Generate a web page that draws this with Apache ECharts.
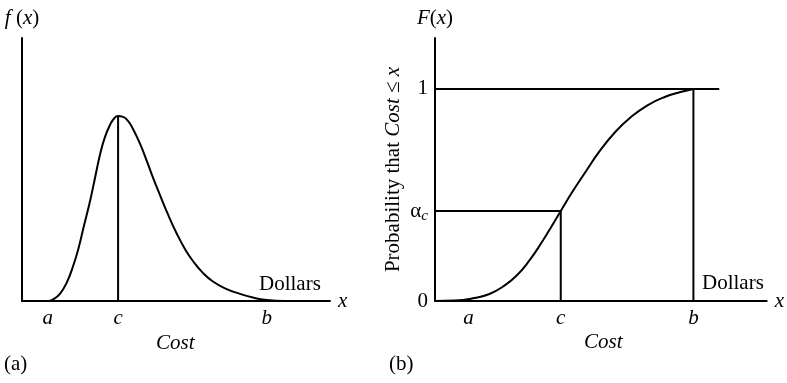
<!DOCTYPE html>
<html>
<head>
<meta charset="utf-8">
<script src="https://cdn.jsdelivr.net/npm/echarts@6/dist/echarts.min.js"></script>
<style>
  html, body { margin: 0; padding: 0; background: #fff; }
  #chart { width: 787px; height: 383px; }
</style>
</head>
<body>
<div id="chart"></div>
<script>
// (a) probability density of cost: x positions and f(x) heights
const pdfX = [4.5, 8.4, 10.1, 12.3, 14.6, 16.6, 18.2, 20.1, 22.1, 23.7, 25.3, 26.9, 28.6, 29.9, 31.2,
              32.8, 34.4, 36.0, 38.3, 40.6, 42.5, 44.8, 47.4, 50.3, 52.9, 55.5, 58.8, 62.0, 65.9,
              70.8, 75.0, 79.5, 85.4];
const pdfY = [0, 0, 0.006, 0.027, 0.072, 0.133, 0.194, 0.285, 0.380, 0.468, 0.555, 0.622, 0.670, 0.694, 0.703,
              0.700, 0.685, 0.655, 0.598, 0.530, 0.470, 0.403, 0.329, 0.255, 0.198, 0.152, 0.106, 0.074, 0.048,
              0.027, 0.013, 0.004, 0];

// (b) cumulative distribution of cost: x positions and F(x) values
const cdfX = [0, 5.97, 11.94, 16.42, 20.30, 24.48, 28.36, 32.24, 35.22, 37.91, 41.19, 45.37, 49.25, 54.33,
              59.10, 64.18, 69.25, 74.03, 77.91];
const cdfY = [0, 0.002, 0.014, 0.033, 0.066, 0.118, 0.189, 0.278, 0.354, 0.424, 0.509, 0.608, 0.698, 0.797,
              0.868, 0.924, 0.962, 0.985, 1.0];

// named cost points on the horizontal axes
const costNames = ['a', 'c', 'b'];
const costTicksA = [8.4, 31.2, 79.5];
const costTicksB = [10.1, 37.91, 77.91];

// probability tick labels on the F(x) axis
const probNames = ['0', 'αc', '1'];
const probTicks = [0, 0.424, 1];
const oneLineEnd = 85.7;

const FONT = '"Liberation Serif", "DejaVu Serif", serif';
const FS = 21;
const INK = '#000';

const peakIdx = pdfY.indexOf(Math.max(...pdfY));
const peakX = pdfX[peakIdx], peakY = pdfY[peakIdx];
const cIdxB = cdfX.indexOf(costTicksB[1]);
const alphaC = cdfY[cIdxB];

function zip(xs, ys) { return xs.map((x, i) => [x, ys[i]]); }

function segment(xi, yi, pts) {
  return {
    type: 'line', xAxisIndex: xi, yAxisIndex: yi, data: pts,
    symbol: 'none', silent: true, animation: false,
    lineStyle: { color: INK, width: 2 }
  };
}

function curve(xi, yi, pts) {
  return {
    type: 'line', xAxisIndex: xi, yAxisIndex: yi, data: pts,
    smooth: 0.5, symbol: 'none', silent: true,
    lineStyle: { color: INK, width: 2 }
  };
}

function costAxis(grid, ticks) {
  return {
    type: 'value', gridIndex: grid, min: 0, max: 100,
    name: 'x', nameLocation: 'end', nameGap: 8,
    nameTextStyle: { fontFamily: FONT, fontSize: FS, fontStyle: 'italic', color: INK, verticalAlign: 'middle', padding: [0, 0, 4, 0] },
    axisLine: { show: true, onZero: false, lineStyle: { color: INK, width: 2 } },
    axisTick: { show: false },
    splitLine: { show: false },
    axisLabel: {
      customValues: ticks,
      formatter: v => costNames[ticks.indexOf(v)] || '',
      fontFamily: FONT, fontSize: FS, fontStyle: 'italic', color: INK, margin: 7
    }
  };
}

function nameRich(size) {
  return { i: { fontFamily: FONT, fontSize: size, fontStyle: 'italic', color: INK } };
}

const chart = echarts.init(document.getElementById('chart'), null, { renderer: 'canvas' });

chart.setOption({
  backgroundColor: '#fff',
  animation: false,
  grid: [
    { left: 22, top: 38, width: 308, height: 263 },
    { left: 435, top: 38, width: 335, height: 263 }
  ],
  xAxis: [costAxis(0, costTicksA), costAxis(1, costTicksB)],
  yAxis: [
    {
      type: 'value', gridIndex: 0, min: 0, max: 1,
      name: '{i|f} ({i|x})', nameLocation: 'end', nameGap: 9,
      nameTextStyle: { fontFamily: FONT, fontSize: FS, color: INK, rich: nameRich(FS) },
      axisLine: { show: true, lineStyle: { color: INK, width: 2 } },
      axisTick: { show: false }, splitLine: { show: false }, axisLabel: { show: false }
    },
    {
      type: 'value', gridIndex: 1, min: 0, max: 1.24,
      name: '{i|F}({i|x})', nameLocation: 'end', nameGap: 9,
      nameTextStyle: { fontFamily: FONT, fontSize: FS, color: INK, rich: nameRich(FS) },
      axisLine: { show: true, lineStyle: { color: INK, width: 2 } },
      axisTick: { show: false }, splitLine: { show: false },
      axisLabel: {
        customValues: probTicks,
        formatter: v => {
          const s = probNames[probTicks.indexOf(v)] || '';
          return s === 'αc' ? '{g|α}{s|c}' : '{g|' + s + '}';
        },
        margin: 7,
        rich: {
          g: { fontFamily: FONT, fontSize: FS, color: INK },
          s: { fontFamily: FONT, fontSize: 15, fontStyle: 'italic', color: INK, padding: [10, 0, 0, 0] }
        }
      }
    },
    {
      type: 'value', gridIndex: 1, min: 0, max: 1.24, position: 'left',
      name: 'Probability that {i|Cost} ≤ {i|x}', nameLocation: 'middle', nameRotate: 90, nameGap: 31,
      nameTextStyle: { fontFamily: FONT, fontSize: FS, color: INK, rich: nameRich(FS) },
      axisLine: { show: false }, axisTick: { show: false }, splitLine: { show: false }, axisLabel: { show: false }
    }
  ],
  series: [
    // density curve and the mode marker
    curve(0, 0, zip(pdfX, pdfY)),
    segment(0, 0, [[peakX, 0], [peakX, peakY]]),
    // cumulative curve with guide lines at c and b
    curve(1, 1, zip(cdfX, cdfY)),
    segment(1, 1, [[0, 1], [oneLineEnd, 1]]),
    segment(1, 1, [[costTicksB[2], 0], [costTicksB[2], 1]]),
    segment(1, 1, [[0, alphaC], [costTicksB[1], alphaC]]),
    segment(1, 1, [[costTicksB[1], 0], [costTicksB[1], alphaC]])
  ],
  graphic: [
    { type: 'text', left: 259, top: 274, style: { text: 'Dollars', font: FS + 'px ' + FONT, fill: INK } },
    { type: 'text', left: 156, top: 333, style: { text: 'Cost', font: 'italic ' + FS + 'px ' + FONT, fill: INK } },
    { type: 'text', left: 4, top: 354, style: { text: '(a)', font: FS + 'px ' + FONT, fill: INK } },
    { type: 'text', left: 702, top: 273, style: { text: 'Dollars', font: FS + 'px ' + FONT, fill: INK } },
    { type: 'text', left: 584, top: 332, style: { text: 'Cost', font: 'italic ' + FS + 'px ' + FONT, fill: INK } },
    { type: 'text', left: 389, top: 354, style: { text: '(b)', font: FS + 'px ' + FONT, fill: INK } }
  ]
});
</script>
</body>
</html>
